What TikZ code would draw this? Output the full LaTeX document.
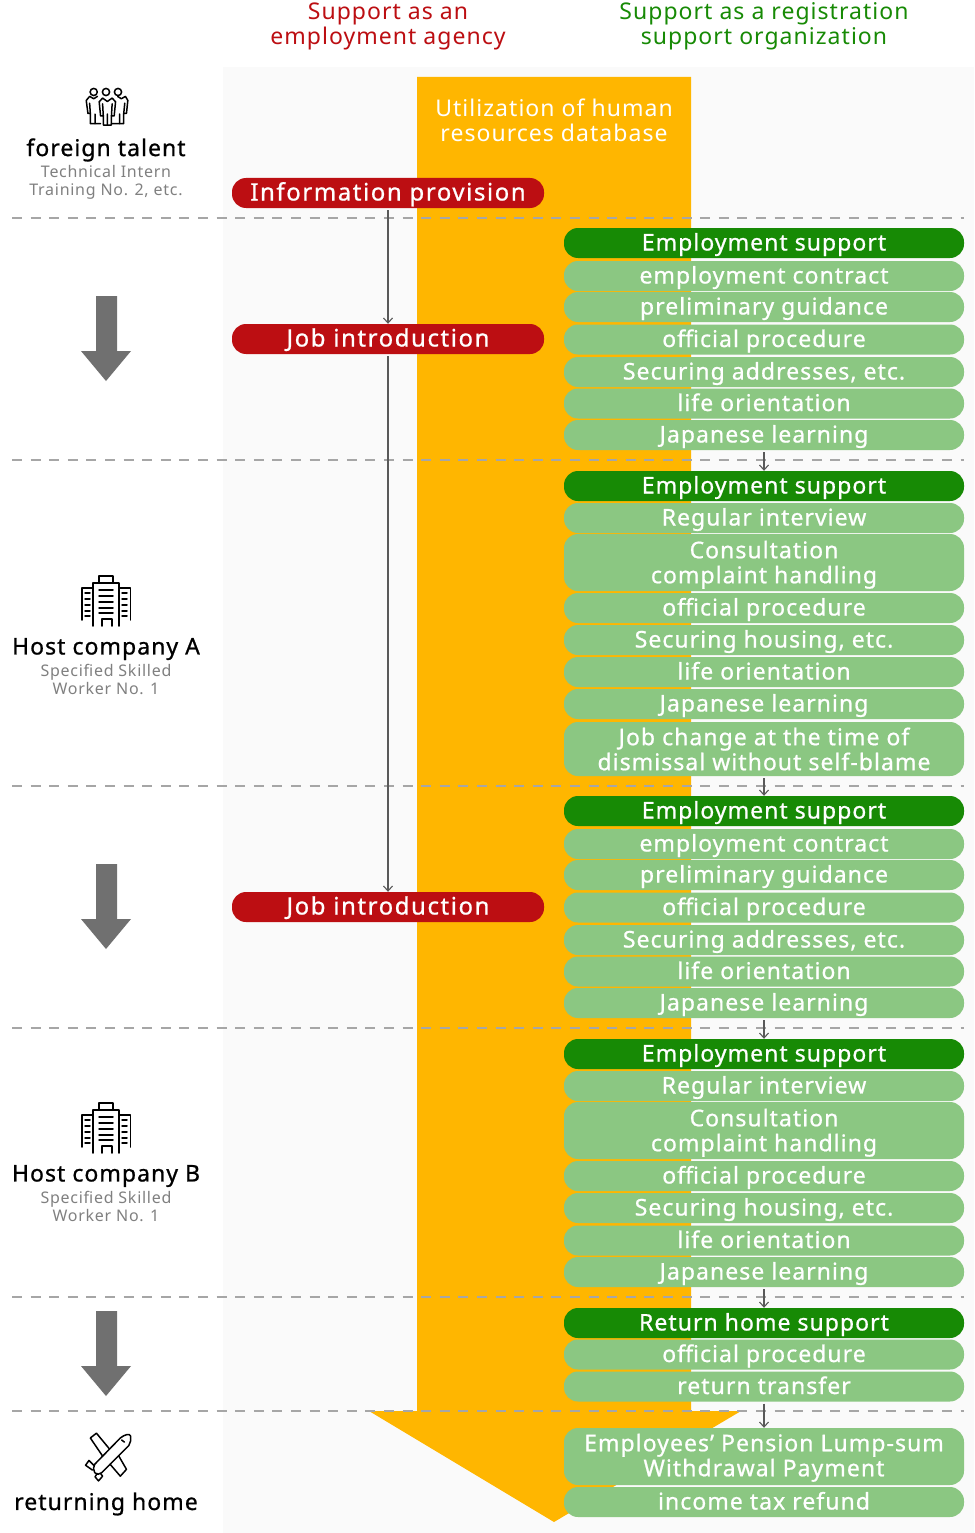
\documentclass[tikz,border=0pt]{standalone}
\usepackage{fontspec}
\setmainfont{Noto Sans}[LetterSpace=4.5]
\newfontfamily\boldish{Noto Sans}[LetterSpace=4.5,FakeBold=0.8]
\newfontfamily\redish{Noto Sans}[LetterSpace=6.5,FakeBold=0.8]
\usetikzlibrary{arrows.meta}
\definecolor{redpill}{HTML}{BC0E12}
\definecolor{darkgreen}{HTML}{178A05}
\definecolor{lightgreen}{HTML}{8BC782}
\definecolor{amber}{HTML}{FFB600}
\definecolor{panelgray}{HTML}{FAFAFA}
\definecolor{biggray}{HTML}{707070}
\tikzset{
  pillbase/.style={rounded corners=14pt,inner sep=0pt,align=center,text=white,font=\boldish\fontsize{23}{25}\selectfont},
  redbox/.style={pillbase,fill=redpill,minimum width=312pt,minimum height=30pt,text height=17pt,text depth=2pt,font=\redish\fontsize{24}{25}\selectfont},
  headbox/.style={pillbase,fill=darkgreen,minimum width=400pt,minimum height=30pt,text height=17pt,text depth=2pt},
  itembox/.style={pillbase,fill=lightgreen,minimum width=400pt,minimum height=30pt,text height=17pt,text depth=2pt},
  tallbox/.style={pillbase,fill=lightgreen,minimum width=400pt,minimum height=#1},
  title/.style={inner sep=0pt,align=center,font=\fontsize{23}{25}\selectfont},
  stage/.style={inner sep=0pt,align=center,text=black,font=\boldish\fontsize{23}{25}\selectfont},
  note/.style={inner sep=0pt,align=center,text=black!50,font=\fontsize{16}{18}\selectfont},
  sep/.style={draw=black!35,line width=1.3pt,dash pattern=on 10pt off 8.6pt},
  link/.style={draw=black!65,line width=1.1pt,-{Straight Barb[length=5pt,width=9pt]},shorten <=2pt},
  bigarrow/.style={fill=biggray},
  icon/.style={line width=1.5pt,line join=round,line cap=round}
}
\newcommand{\pushtext}[1]{\rule{0pt}{#1}}
\newcommand{\downarrowat}[1]{\fill[bigarrow,shift={(0,#1)}] (96,0) -- (117,0) -- (117,55) -- (131,55) -- (106,85) -- (81,55) -- (96,55) -- cycle;}
\newcommand{\buildingat}[1]{
  \begin{scope}[icon,shift={(0,#1)}]
    \draw (99,7) -- (99,0) -- (113,0) -- (113,7);
    \draw (93,50) -- (93,7) -- (119,7) -- (119,50);
    \draw (93,12) -- (82,12) -- (82,44);
    \draw (119,12) -- (130.5,12) -- (130.5,44);
    \draw (102,50) -- (102,43) -- (112,43) -- (112,50);
    \draw (99,14) -- (113,14) (99,20) -- (113,20) (99,26) -- (113,26) (99,32) -- (113,32) (99,37) -- (113,37);
    \draw (85,17) -- (90,17) (85,23) -- (90,23) (85,29) -- (90,29) (85,35) -- (90,35) (85,40) -- (90,40);
    \draw (122,17) -- (127,17) (122,23) -- (127,23) (122,29) -- (127,29) (122,35) -- (127,35) (122,40) -- (127,40);
  \end{scope}
}
\begin{document}
\begin{tikzpicture}[x=1pt,y=-1pt]
  \useasboundingbox (0,0) rectangle (974,1533);
  \fill[white] (0,0) rectangle (974,1533);
  \fill[panelgray] (223,67) rectangle (974,1533);
  \fill[amber] (417,77) -- (691,77) -- (691,1411) -- (741,1411) -- (554,1522) -- (369,1411) -- (417,1411) -- cycle;

  \draw[sep] (12,218) -- (964,218);
  \draw[sep] (12,460) -- (964,460);
  \draw[sep] (12,786) -- (964,786);
  \draw[sep] (12,1028) -- (964,1028);
  \draw[sep] (12,1297) -- (964,1297);
  \draw[sep] (12,1411) -- (964,1411);

  \node[title,text=redpill] (agency) at (388,26) {Support as an\\employment agency};
  \node[title,text=darkgreen] (registration) at (764,26) {Support as a registration\\support organization};
  \node[title,text=white] (database) at (554,120) {Utilization of human\\resources database};

  \draw[icon] (93.7,92) circle (3.6);
  \draw[icon] (106,92) circle (3.6);
  \draw[icon] (118,92) circle (3.6);
  \begin{scope}[icon,shift={(76,80)},scale=0.341]
    \draw (80,132) -- (80,105) -- (72,105) -- (68,64) -- (78,53) -- (92,63) -- (106,53) -- (116,64) -- (112,105) -- (104,105) -- (104,132) -- cycle;
    \draw (92,100) -- (92,132) (78,70) -- (80,105) (106,70) -- (104,105);
    \draw (63,48) -- (52,55) -- (40,48) -- (30,60) -- (35,98) -- (42,98) -- (42,128) -- (72,128);
    \draw (40,68) -- (42,98) (56,100) -- (56,128);
    \draw (122,48) -- (133,55) -- (145,48) -- (152,60) -- (148,98) -- (140,98) -- (140,128) -- (104,128);
    \draw (143,68) -- (140,98) (128,100) -- (128,128);
  \end{scope}
  \node[stage] (talent) at (106,150) {foreign talent};
  \node[note] (intern) at (106,182.5) {Technical Intern\\Training No. 2, etc.};

  \downarrowat{296}
  \downarrowat{864}
  \downarrowat{1311}

  \buildingat{576}
  \node[stage] (hosta) at (106,649) {Host company A};
  \node[note] (skilleda) at (106,679.5) {Specified Skilled\\Worker No. 1};
  \buildingat{1103}
  \node[stage] (hostb) at (106,1176) {Host company B};
  \node[note] (skilledb) at (106,1206.5) {Specified Skilled\\Worker No. 1};

  \begin{scope}[icon,shift={(76,1425)},scale=0.341]
    \draw (130,38) .. controls (142,28) and (158,24) .. (160,32) .. controls (162,42) and (160,52) .. (155,60) -- (75,140) .. controls (68,146) and (60,146) .. (55,140) .. controls (50,132) and (50,122) .. (55,115) -- cycle;
    \draw (98,70) -- (60,24) -- (42,38) -- (78,91);
    \draw (125,90) -- (148,130) -- (130,150) -- (100,115);
    \draw (52,118) -- (38,104) -- (28,118) -- (48,132);
    \draw (62,142) -- (56,152) -- (66,164) -- (78,150) -- (72,142);
    \draw (134,44) -- (142,50);
  \end{scope}
  \node[stage] (returning) at (106,1504) {returning home};

  \node[redbox] (provision) at (388,193) {Information provision};
  \node[redbox] (intro1) at (388,339) {Job introduction};
  \node[redbox] (intro2) at (388,907) {Job introduction};

  \node[headbox] (emp1) at (764,243) {Employment support};
  \node[itembox] (contract1) at (764,276) {employment contract};
  \node[itembox] (guidance1) at (764,307) {preliminary guidance};
  \node[itembox] (proc1) at (764,339.5) {official procedure};
  \node[itembox] (addr1) at (764,372) {Securing addresses, etc.};
  \node[itembox] (life1) at (764,403.5) {life orientation};
  \node[itembox] (jp1) at (764,435) {Japanese learning};

  \node[headbox] (emp2) at (764,486) {Employment support};
  \node[itembox] (interview2) at (764,518) {Regular interview};
  \node[tallbox=57pt] (consult2) at (764,562.5) {\pushtext{22pt}Consultation\\complaint handling};
  \node[itembox] (proc2) at (764,608) {official procedure};
  \node[itembox] (housing2) at (764,640) {Securing housing, etc.};
  \node[itembox] (life2) at (764,672) {life orientation};
  \node[itembox] (jp2) at (764,704) {Japanese learning};
  \node[tallbox=54pt] (change2) at (764,749) {Job change at the time of\\dismissal without self-blame};

  \node[headbox] (emp3) at (764,811) {Employment support};
  \node[itembox] (contract3) at (764,844) {employment contract};
  \node[itembox] (guidance3) at (764,875) {preliminary guidance};
  \node[itembox] (proc3) at (764,907.5) {official procedure};
  \node[itembox] (addr3) at (764,940) {Securing addresses, etc.};
  \node[itembox] (life3) at (764,971.5) {life orientation};
  \node[itembox] (jp3) at (764,1003) {Japanese learning};

  \node[headbox] (emp4) at (764,1054) {Employment support};
  \node[itembox] (interview4) at (764,1086) {Regular interview};
  \node[tallbox=57pt] (consult4) at (764,1130.5) {\pushtext{22pt}Consultation\\complaint handling};
  \node[itembox] (proc4) at (764,1176) {official procedure};
  \node[itembox] (housing4) at (764,1208) {Securing housing, etc.};
  \node[itembox] (life4) at (764,1240.5) {life orientation};
  \node[itembox] (jp4) at (764,1272) {Japanese learning};

  \node[headbox] (back5) at (764,1323) {Return home support};
  \node[itembox] (proc5) at (764,1354.5) {official procedure};
  \node[itembox] (transfer5) at (764,1386.5) {return transfer};

  \node[tallbox=57pt] (pension6) at (764,1456.5) {\pushtext{20pt}Employees’ Pension Lump-sum\\Withdrawal Payment};
  \node[itembox] (tax6) at (764,1502) {income tax refund};

  \draw[link] (provision) -- (intro1);
  \draw[link] (intro1) -- (intro2);
  \draw[link] (jp1) -- (emp2);
  \draw[link] (change2) -- (emp3);
  \draw[link] (jp3) -- (emp4);
  \draw[link] (jp4) -- (back5);
  \draw[link] (transfer5) -- (pension6);
\end{tikzpicture}
\end{document}
